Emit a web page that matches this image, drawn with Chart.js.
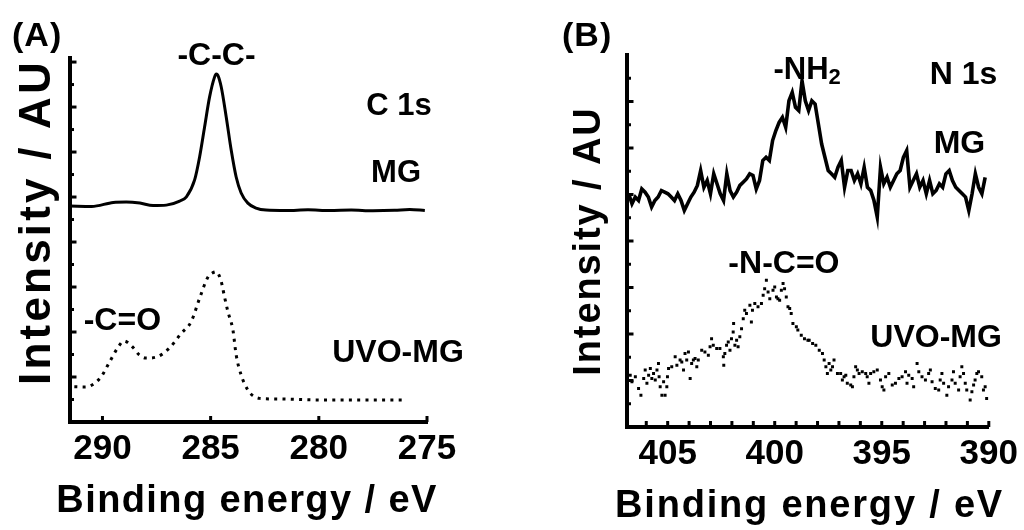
<!DOCTYPE html>
<html>
<head>
<meta charset="utf-8">
<script src="https://cdn.jsdelivr.net/npm/chart.js@4.4.1/dist/chart.umd.min.js"></script>
<style>
  html, body { margin: 0; padding: 0; background: #fff; }
  #wrap { position: relative; width: 1024px; height: 530px; overflow: hidden; }
  .panel { position: absolute; top: 0; width: 512px; height: 530px; }
</style>
</head>
<body>
<div id="wrap">
  <div class="panel" style="left:0"><canvas id="chartA" width="512" height="530"></canvas></div>
  <div class="panel" style="left:512px"><canvas id="chartB" width="512" height="530"></canvas></div>
</div>
<script>
// ---- Panel A: C 1s (binding energy in eV, intensity in tick units) ----
const energyA_MG = [291.5, 290.5, 289.5, 288.9, 288.27, 287.66, 287.05, 286.43, 286.12, 285.74,
  285.51, 285.28, 285.05, 284.82, 284.74, 284.67, 284.51, 284.28, 284.05, 283.82,
  283.59, 283.28, 282.9, 282.44, 281.5, 280.5, 279.5, 278.5, 277.5, 276.5, 275.8, 275.1];
const intensityA_MG = [9.60, 9.58, 9.76, 9.78, 9.73, 9.62, 9.64, 9.82, 10.01, 10.76,
  11.78, 13.11, 14.44, 15.33, 15.47, 15.42, 14.89, 13.56, 12.09, 10.89,
  10.18, 9.73, 9.51, 9.42, 9.40, 9.43, 9.40, 9.42, 9.39, 9.41, 9.45, 9.40];

const energyA_UVO = [291.3, 290.8, 290.1, 289.7, 289.3, 289.0, 288.6, 288.3, 288.0, 287.5,
  286.9, 286.36, 285.9, 285.51, 285.12, 284.89, 284.74, 284.51, 284.36, 284.2,
  283.97, 283.82, 283.59, 283.28, 283.05, 282.74, 281.7, 280.0, 278.0, 276.1];
const intensityA_UVO = [1.57, 1.56, 1.96, 2.62, 3.29, 3.60, 3.33, 2.98, 2.84, 2.89,
  3.29, 3.94, 4.46, 5.50, 6.45, 6.64, 6.68, 6.24, 5.57, 4.90,
  4.09, 2.98, 2.09, 1.42, 1.17, 1.05, 1.02, 0.98, 0.98, 0.98];

// ---- Panel B: N 1s ----
// MG trace sampled on the instrument grid from 406.82 eV down to 390.17 eV
const gridB_start = 406.82;
const gridB_end = 390.17;
const intensityB_MG = [
  10.03, 9.60, 9.89, 9.74, 10.24, 10.10, 9.89, 9.46, 9.74, 9.89,
  10.17, 10.10, 10.03, 9.89, 9.74, 10.03, 9.74, 9.31, 9.60, 9.89,
  10.10, 10.39, 11.03, 10.31, 10.60, 10.03, 10.89, 10.46, 10.03, 9.74,
  10.89, 10.17, 9.89, 10.10, 10.39, 10.53, 10.67, 10.89, 10.82, 10.24,
  10.60, 11.46, 11.60, 11.46, 12.32, 12.75, 13.10, 13.32, 12.89, 14.03,
  14.39, 13.75, 13.61, 14.89, 14.03,
  13.61, 14.03, 13.89, 13.03, 12.17, 11.60, 11.03, 10.89, 10.74, 11.17,
  11.46, 10.31, 11.03, 11.03, 10.60, 10.89, 10.46, 11.17, 10.31, 10.17,
  9.74, 9.03, 11.17, 10.46, 10.74, 10.31, 10.60, 10.89, 11.03, 11.60,
  11.89, 10.31, 10.60, 10.89, 10.31, 10.60, 10.03, 10.60, 10.03, 10.17,
  10.46, 10.31, 10.89, 11.03, 10.60, 10.31, 10.17, 10.03, 9.89, 9.31,
  10.03, 10.89, 10.31, 10.03, 10.74];

const energyB_UVO = [
  406.75, 406.67, 406.51, 406.36, 406.25, 406.12, 406.05, 405.97, 405.89, 405.81,
  405.74, 405.66, 405.58, 405.50, 405.43, 405.40, 405.35, 405.27, 405.19, 405.12,
  405.04, 405.01, 404.96, 404.81, 404.65, 404.57, 404.42, 404.34, 404.26, 404.19,
  404.11, 404.03, 403.95, 403.88, 403.80, 403.72, 403.64, 403.57, 403.41, 403.26,
  403.10, 403.02, 402.95, 402.87, 402.71, 402.56, 402.40, 402.38, 402.33, 402.25,
  402.17, 402.09, 402.02, 401.94, 401.92, 401.86, 401.78, 401.71, 401.63, 401.55,
  401.47, 401.40, 401.32, 401.16, 401.09, 401.04, 400.93, 400.78, 400.62, 400.54,
  400.47, 400.39, 400.31, 400.23, 400.08, 400.00, 399.92, 399.85, 399.77, 399.69,
  399.61, 399.54, 399.46, 399.38, 399.30, 399.23, 399.15, 398.99, 398.92, 398.76,
  398.61, 398.45,
  398.39, 398.23, 398.08, 397.92, 397.77, 397.69, 397.61, 397.54, 397.46, 397.38,
  397.30, 397.23, 397.07, 396.92, 396.84, 396.76, 396.68, 396.61, 396.45, 396.37,
  396.30, 396.22, 396.14, 396.06, 395.91, 395.75, 395.68, 395.60, 395.52, 395.37,
  395.21, 395.06, 394.98, 394.90, 394.82, 394.67, 394.51, 394.36, 394.20, 394.05,
  393.89, 393.82, 393.74, 393.58, 393.51, 393.35, 393.27, 393.12, 392.96, 392.81,
  392.73, 392.65, 392.50, 392.34, 392.27, 392.19, 392.11, 391.96, 391.88, 391.72,
  391.65, 391.57, 391.41, 391.34, 391.26, 391.18, 391.10, 391.03, 390.87, 390.79,
  390.71, 390.64, 390.56, 390.48, 390.33, 390.25, 390.17, 390.10];
const intensityB_UVO = [
  2.23, 1.95, 2.16, 1.66, 1.37, 2.09, 2.45, 1.88, 2.23, 2.52,
  2.09, 2.30, 2.02, 2.45, 2.73, 2.16, 1.73, 1.37, 1.95, 1.37,
  1.73, 2.16, 2.52, 2.59, 3.02, 2.66, 2.88, 2.80, 2.45, 3.16,
  2.88, 3.23, 2.09, 2.73, 2.88, 2.95, 2.59, 2.88, 3.30, 3.23,
  3.09, 3.45, 3.80, 3.52, 3.38, 3.38, 3.02, 2.66, 3.16, 3.52,
  3.66, 3.30, 3.80, 4.09, 4.45, 3.52, 3.73, 3.45, 3.88, 4.23,
  4.66, 5.02, 4.88, 5.24, 4.52, 5.02, 5.31, 5.17, 5.31, 5.67,
  5.95, 6.31, 5.81, 5.52, 5.88, 6.02, 5.59, 5.52, 5.45, 5.88,
  6.17, 5.95, 5.59, 5.17, 5.10, 4.88, 4.45, 4.31, 4.17, 3.95,
  3.80, 3.73,
  3.73, 3.59, 3.52, 3.30, 3.16, 2.88, 2.59, 2.30, 2.73, 2.45,
  2.59, 2.88, 2.30, 2.30, 2.02, 2.16, 2.23, 1.88, 1.81, 1.73,
  2.16, 2.59, 2.45, 2.30, 2.38, 2.30, 2.16, 1.88, 2.30, 2.38,
  2.45, 2.02, 1.73, 1.59, 2.16, 2.30, 1.81, 1.88, 2.09, 2.16,
  2.38, 1.88, 2.23, 2.09, 1.73, 2.73, 2.38, 2.16, 2.02, 2.30,
  2.45, 1.95, 1.66, 1.59, 2.02, 2.30, 1.88, 1.37, 1.73, 2.02,
  2.38, 1.88, 1.59, 2.16, 2.59, 2.30, 1.88, 1.59, 1.16, 1.52,
  1.81, 2.02, 2.30, 2.38, 2.16, 1.59, 1.73, 1.23];

// Axis ranges
const xRangeA = [275, 291.5];
const xRangeB = [390, 406.9];
const yRangeA = [0, 16.18];
const yRangeB = [0, 16];

const FONT_FAMILY = '"Liberation Sans", Arial, Helvetica, sans-serif';

function xyPoints(xs, ys) {
  return xs.map((x, i) => ({ x: x, y: ys[i] }));
}

function gridPoints(start, end, ys) {
  const step = (end - start) / (ys.length - 1);
  return ys.map((y, i) => ({ x: start + i * step, y: y }));
}

// Draws inward tick marks, panel tag, axis titles and peak labels
const xpsDecor = {
  id: 'xpsDecor',
  afterDraw(chart, args, opts) {
    const ctx = chart.ctx;
    const xs = chart.scales.x;
    const ys = chart.scales.y;
    const area = chart.chartArea;
    ctx.save();
    ctx.fillStyle = '#000';
    ctx.strokeStyle = '#000';
    ctx.lineCap = 'butt';
    ctx.lineWidth = 3;

    ys.ticks.forEach(t => {
      if (t.value <= 0 || t.value > ys.max - 0.1) return;
      const py = ys.getPixelForValue(t.value);
      const len = t.value % 2 === 0 ? opts.yMajor : opts.yMinor;
      ctx.beginPath();
      ctx.moveTo(area.left, py);
      ctx.lineTo(area.left + len, py);
      ctx.stroke();
    });
    xs.ticks.forEach(t => {
      const px = xs.getPixelForValue(t.value);
      ctx.beginPath();
      ctx.moveTo(px, area.bottom);
      ctx.lineTo(px, area.bottom - opts.xTick);
      ctx.stroke();
    });

    const setFont = (size, spacing) => {
      ctx.font = 'bold ' + size + 'px ' + FONT_FAMILY;
      ctx.letterSpacing = (spacing || 0) + 'px';
    };

    // panel tag
    setFont(opts.tag.size, opts.tag.spacing);
    ctx.textAlign = 'left';
    ctx.textBaseline = 'alphabetic';
    ctx.fillText(opts.tag.text, opts.tag.x, opts.tag.y);

    // x title
    setFont(opts.xTitle.size, opts.xTitle.spacing);
    ctx.textAlign = 'center';
    ctx.fillText(opts.xTitle.text, opts.xTitle.x, opts.xTitle.y);

    // y title (rotated)
    ctx.save();
    setFont(opts.yTitle.size, opts.yTitle.spacing);
    ctx.translate(opts.yTitle.x, opts.yTitle.y);
    ctx.rotate(-Math.PI / 2);
    ctx.textAlign = 'center';
    ctx.fillText(opts.yTitle.text, 0, 0);
    ctx.restore();

    // peak / series labels anchored in data space
    opts.labels.forEach(l => {
      const px = xs.getPixelForValue(l.x);
      const py = ys.getPixelForValue(l.y);
      setFont(l.size, 0);
      ctx.textAlign = l.align || 'center';
      ctx.textBaseline = 'alphabetic';
      ctx.fillText(l.text, px, py);
      if (l.sub) {
        const w = ctx.measureText(l.text).width;
        setFont(Math.round(l.size * 0.7), 0);
        ctx.textAlign = 'left';
        ctx.fillText(l.sub, px + w, py + l.size * 0.18);
      }
    });
    ctx.restore();
  }
};

function axisX(range, step, height, everyLabel) {
  return {
    type: 'linear',
    reverse: true,
    min: range[0],
    max: range[1],
    afterFit: s => { s.height = height; },
    grid: { display: false, drawTicks: false },
    border: { display: true, color: '#000', width: 4 },
    ticks: {
      stepSize: step,
      includeBounds: false,
      autoSkip: false,
      maxRotation: 0,
      maxTicksLimit: 1000,
      padding: 6,
      color: '#000',
      font: { family: FONT_FAMILY, size: 35, weight: 'bold' },
      callback: v => (v % everyLabel === 0 ? String(v) : '')
    }
  };
}

function axisY(range, width) {
  return {
    type: 'linear',
    min: range[0],
    max: range[1],
    afterFit: s => { s.width = width; },
    grid: { display: false, drawTicks: false },
    border: { display: true, color: '#000', width: 4 },
    ticks: { display: false, stepSize: 1, includeBounds: false, maxTicksLimit: 1000 }
  };
}

const solidLine = {
  showLine: true,
  borderColor: '#000',
  borderWidth: 3,
  pointRadius: 0,
  cubicInterpolationMode: 'monotone'
};

// Panel A
new Chart(document.getElementById('chartA'), {
  type: 'scatter',
  data: {
    datasets: [
      Object.assign({ label: 'MG', data: xyPoints(energyA_MG, intensityA_MG) }, solidLine),
      Object.assign({ label: 'UVO-MG', data: xyPoints(energyA_UVO, intensityA_UVO) }, solidLine,
        { borderDash: [3, 5.3], borderCapStyle: 'butt' })
    ]
  },
  options: {
    responsive: false,
    animation: false,
    events: [],
    layout: { padding: { left: 0, top: 58, right: 85, bottom: 0 } },
    plugins: {
      legend: { display: false },
      tooltip: { enabled: false },
      xpsDecor: {
        yMajor: 6.5, yMinor: 4, xTick: 6,
        tag: { text: '(A)', x: 12, y: 46, size: 34, spacing: 1 },
        xTitle: { text: 'Binding energy / eV', x: 247, y: 512, size: 38, spacing: 1.4 },
        yTitle: { text: 'Intensity / AU', x: 50, y: 222, size: 44, spacing: 3.2 },
        labels: [
          { text: '-C-C-', x: 284.73, y: 15.87, size: 32 },
          { text: 'C 1s', x: 276.29, y: 13.64, size: 31 },
          { text: 'MG', x: 276.43, y: 10.67, size: 31 },
          { text: '-C=O', x: 289.08, y: 4.09, size: 32 },
          { text: 'UVO-MG', x: 276.34, y: 2.67, size: 32 }
        ]
      }
    },
    scales: {
      x: axisX(xRangeA, 5, 108, 5),
      y: axisY(yRangeA, 70)
    }
  },
  plugins: [xpsDecor]
});

// Panel B
new Chart(document.getElementById('chartB'), {
  type: 'scatter',
  data: {
    datasets: [
      Object.assign({ label: 'MG', data: gridPoints(gridB_start, gridB_end, intensityB_MG) }, solidLine,
        { borderWidth: 3.6, cubicInterpolationMode: 'default', tension: 0 }),
      {
        label: 'UVO-MG',
        data: xyPoints(energyB_UVO, intensityB_UVO),
        showLine: false,
        pointStyle: 'rect',
        pointRadius: 2.1,
        pointBorderWidth: 0,
        backgroundColor: '#000',
        borderColor: '#000'
      }
    ]
  },
  options: {
    responsive: false,
    animation: false,
    events: [],
    layout: { padding: { left: 0, top: 55, right: 34, bottom: 0 } },
    plugins: {
      legend: { display: false },
      tooltip: { enabled: false },
      xpsDecor: {
        yMajor: 6.5, yMinor: 4, xTick: 6,
        tag: { text: '(B)', x: 50, y: 46, size: 34, spacing: 1 },
        xTitle: { text: 'Binding energy / eV', x: 297.5, y: 517, size: 38, spacing: 1.8 },
        yTitle: { text: 'Intensity / AU', x: 88, y: 241, size: 38, spacing: 1.9 },
        labels: [
          { text: '-NH', sub: '2', x: 400.06, y: 14.98, size: 31, align: 'left' },
          { text: 'N 1s', x: 391.18, y: 14.76, size: 32 },
          { text: 'MG', x: 391.37, y: 11.80, size: 32 },
          { text: '-N-C=O', x: 399.57, y: 6.61, size: 32 },
          { text: 'UVO-MG', x: 392.46, y: 3.43, size: 32 }
        ]
      }
    },
    scales: {
      x: axisX(xRangeB, 1, 103, 5),
      y: axisY(yRangeB, 115)
    }
  },
  plugins: [xpsDecor]
});
</script>
</body>
</html>
